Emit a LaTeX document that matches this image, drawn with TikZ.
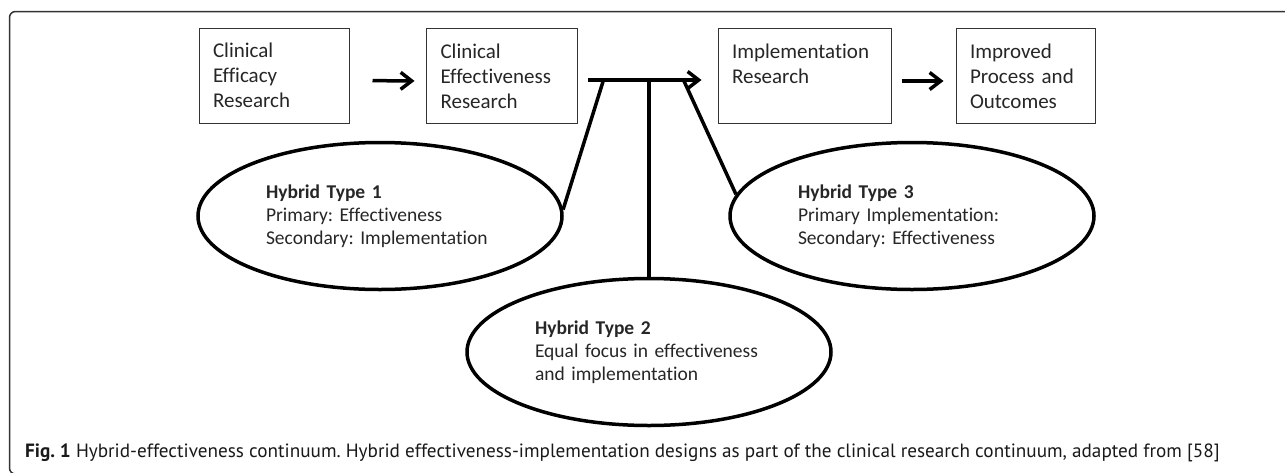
\documentclass[tikz,border=0pt]{standalone}
\usepackage{fontspec}
\setmainfont{Carlito}[Ligatures=NoCommon]
\newfontfamily\capfont{PT Sans}
\usetikzlibrary{calc,shapes.geometric,arrows.meta}
\frenchspacing

\begin{document}
\begin{tikzpicture}[x=1pt,y=-1pt,
        stage/.style={draw=black!80, line width=1pt, minimum height=95pt, inner sep=0pt,
            align=left, text=black!85, font=\fontsize{21}{25}\selectfont},
        hybrid/.style={ellipse, draw, line width=3.5pt, minimum width=364pt, minimum height=147pt,
            inner sep=0pt, text width=228pt, align=left, text=black!85,
            font=\fontsize{19.5}{23}\selectfont},
        flow/.style={line width=3.5pt, -{Straight Barb[length=11pt,width=17pt]}},
        leg/.style={line width=3.5pt}]
        \useasboundingbox (0,0) rectangle (1285,472);
        \draw[black!80, line width=1.5pt, rounded corners=6pt] (1295,11.5) -- (9.5,11.5) -- (9.5,474) -- (1295,474);
        % the four stages
        \node[stage, minimum width=150pt, text width=122pt] (b1) at (274,75.5) {Clinical\\Efficacy\\Research};
        \node[stage, minimum width=151pt, text width=122pt] (b2) at (501.5,76) {Clinical\\Effectiveness\\Research};
        \node[stage, minimum width=173pt, text width=145pt] (b3) at (804.5,76) {Implementation\\Research\\~};
        \node[stage, minimum width=139pt, text width=111pt] (b4) at (1025.5,76) {Improved\\Process and\\Outcomes};
        \foreach \a/\b/\s/\t in {b1/b2/23/11, b3/b4/10/12}
        \draw[flow, shorten <=\s pt, shorten >=\t pt] ([yshift=-5pt]\a.east) -- ([yshift=-5pt]\b.west);
        \draw[flow, shorten <=10pt, shorten >=16pt] ([yshift=-4pt]b2.east) -- ([yshift=-4pt]b3.west);
        \coordinate (bar) at ([yshift=-4pt]b2.east);
        % the three hybrids
        \node[hybrid] (e1) at (380,216) {\textbf{Hybrid Type 1}\\Primary: Effectiveness\\Secondary: Implementation};
        \node[hybrid] (e2) at (649,352) {\textbf{Hybrid Type 2}\\Equal focus in effectiveness\\and implementation};
        \node[hybrid] (e3) at (912,216) {\textbf{Hybrid Type 3}\\Primary Implementation:\\Secondary: Effectiveness};
        \coordinate (j1) at ($(bar)+(26,0)$);
        \coordinate (j2) at (e2.north |- bar);
        \coordinate (j3) at ($(bar)+(106,0)$);
        \draw[leg] (j1) -- (e1.2.5);
        \draw[leg] (j2) -- (e2.north);
        \draw[leg] (j3) -- (e3.173);
        \node[anchor=base west, inner sep=0pt, text=black!90, font=\capfont\fontsize{19.2}{22}\selectfont] (cap) at (25,457)
            {\textbf{Fig. 1} Hybrid-effectiveness continuum. Hybrid effectiveness-implementation designs as part of the clinical research continuum, adapted from [58]};
    \end{tikzpicture}
\end{document}
